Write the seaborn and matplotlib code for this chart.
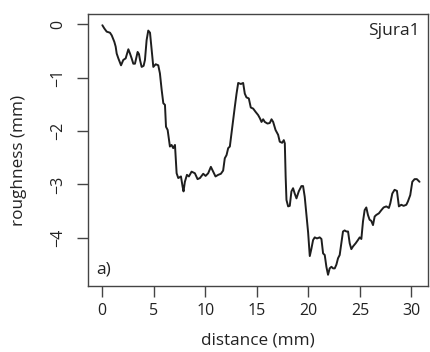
import numpy as np
import pandas as pd
import matplotlib
matplotlib.use("Agg")
import matplotlib.pyplot as plt
import seaborn as sns

# profile
distance = [0.03, 0.22, 0.45, 0.77, 0.94, 1.19, 1.32, 1.42, 1.58, 1.84,
            2.06, 2.29, 2.55, 2.71, 2.87, 3.03, 3.19, 3.45, 3.58, 3.68,
            3.84, 4.03, 4.16, 4.32, 4.48, 4.65, 4.81, 4.97, 5.20, 5.45,
            5.61, 5.78, 5.94, 6.10, 6.20, 6.36, 6.49, 6.58, 6.74, 6.90,
            7.07, 7.16, 7.23, 7.39, 7.65, 7.81, 7.90, 8.03, 8.23, 8.42,
            8.68, 9.00, 9.26, 9.49, 9.81, 10.04, 10.29, 10.55, 10.78, 11.00,
            11.26, 11.52, 11.74, 11.90, 12.07, 12.23, 12.39, 12.55, 12.71, 12.87,
            13.04, 13.20, 13.46, 13.68, 13.84, 14.00, 14.23, 14.42, 14.65, 14.88,
            15.13, 15.30, 15.46, 15.62, 15.78, 16.04, 16.26, 16.43, 16.59, 16.82,
            17.07, 17.23, 17.46, 17.62, 17.72, 17.76, 17.80, 17.88, 18.04, 18.20,
            18.36, 18.52, 18.68, 18.85, 19.07, 19.33, 19.49, 19.65, 19.82, 19.98,
            20.14, 20.30, 20.46, 20.62, 20.84, 21.10, 21.27, 21.43, 21.59, 21.75,
            21.91, 22.07, 22.24, 22.40, 22.56, 22.72, 22.88, 23.04, 23.20, 23.36,
            23.52, 23.69, 23.85, 24.01, 24.17, 24.33, 24.59, 24.81, 24.98, 25.14,
            25.30, 25.46, 25.62, 25.78, 25.94, 26.10, 26.27, 26.43, 26.59, 26.84,
            27.08, 27.30, 27.56, 27.81, 27.95, 28.14, 28.36, 28.59, 28.78, 29.01,
            29.24, 29.50, 29.65, 29.88, 30.08, 30.30, 30.52, 30.78]
roughness = [-0.02, -0.08, -0.14, -0.16, -0.21, -0.33, -0.42, -0.55, -0.64, -0.77,
             -0.67, -0.64, -0.47, -0.55, -0.64, -0.74, -0.74, -0.52, -0.56, -0.67,
             -0.80, -0.78, -0.67, -0.30, -0.12, -0.16, -0.49, -0.80, -0.75, -0.77,
             -0.92, -1.23, -1.48, -1.51, -1.92, -1.98, -2.17, -2.29, -2.26, -2.32,
             -2.26, -2.54, -2.79, -2.88, -2.85, -3.04, -3.13, -2.95, -2.82, -2.85,
             -2.76, -2.79, -2.90, -2.88, -2.80, -2.84, -2.79, -2.67, -2.76, -2.85,
             -2.82, -2.80, -2.74, -2.51, -2.45, -2.32, -2.29, -2.04, -1.79, -1.55,
             -1.30, -1.10, -1.12, -1.10, -1.30, -1.37, -1.39, -1.56, -1.58, -1.64,
             -1.70, -1.76, -1.83, -1.78, -1.83, -1.86, -1.85, -1.78, -1.83, -1.98,
             -2.07, -2.20, -2.22, -2.17, -2.23, -2.54, -2.85, -3.29, -3.41, -3.40,
             -3.13, -3.07, -3.17, -3.26, -3.13, -3.03, -3.03, -3.23, -3.58, -3.90,
             -4.34, -4.20, -4.04, -3.99, -4.01, -3.99, -4.02, -4.29, -4.32, -4.54,
             -4.69, -4.57, -4.54, -4.57, -4.57, -4.50, -4.38, -4.32, -4.10, -3.88,
             -3.86, -3.88, -3.88, -4.10, -4.21, -4.16, -4.10, -4.04, -3.99, -4.02,
             -3.69, -3.48, -3.43, -3.57, -3.66, -3.68, -3.76, -3.60, -3.57, -3.54,
             -3.48, -3.43, -3.41, -3.44, -3.35, -3.17, -3.10, -3.12, -3.41, -3.38,
             -3.40, -3.38, -3.32, -3.20, -2.95, -2.90, -2.90, -2.95]
x_ticks = [0, 5, 10, 15, 20, 25, 30]
y_ticks = [0, -1, -2, -3, -4]

sns.set_style("ticks")
plt.rcParams['font.family'] = ['Open Sans', 'DejaVu Sans']
plt.rcParams['axes.unicode_minus'] = True

df = pd.DataFrame({"distance": distance, "roughness": roughness})

fig = plt.figure(figsize=(4.3, 3.52), dpi=100)
ax = fig.add_axes([0.2047, 0.1875, 0.7906, 0.7727])
sns.lineplot(data=df, x="distance", y="roughness", ax=ax, color="#1e1e1e",
             linewidth=1.4, sort=False, estimator=None)

ax.set_xlim(-1.36, 31.6)
ax.set_ylim(-4.9, 0.19)
ax.set_xticks(x_ticks)
ax.set_yticks(y_ticks)
ax.set_yticklabels([str(t).replace('-', '\u2212') for t in y_ticks],
                   rotation=90, va='center')
ax.tick_params(axis='both', length=8, width=1.0, color='#444444',
               labelsize=11.5, labelcolor='#222222')
ax.tick_params(axis='x', pad=4)
ax.tick_params(axis='y', pad=8)
for s in ax.spines.values():
    s.set_color('#444444')
    s.set_linewidth(1.0)
    s.set_visible(True)

ax.set_xlabel("distance (mm)", fontsize=12.3, color='#222222', labelpad=10)
ax.set_ylabel("roughness (mm)", fontsize=12.3, color='#222222')
ax.yaxis.set_label_coords(-0.18, 0.46)

ax.text(0.976, 0.967, "Sjura1", transform=ax.transAxes, ha='right', va='top',
        fontsize=12.5, color='#222222')
ax.text(0.025, 0.03, "a)", transform=ax.transAxes, ha='left', va='bottom',
        fontsize=12.5, color='#222222')

fig.savefig("out.png", dpi=100)
